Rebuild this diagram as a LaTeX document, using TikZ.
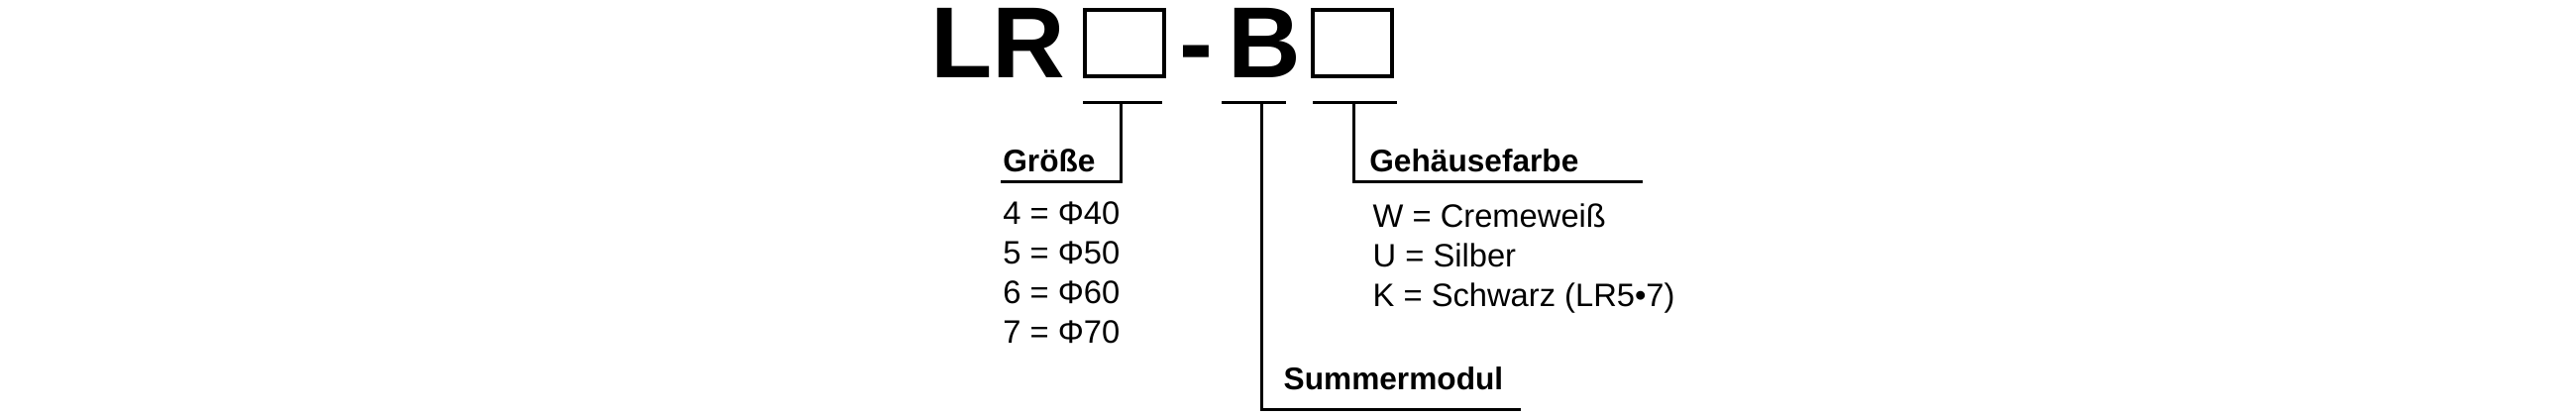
\documentclass[tikz,border=0pt]{standalone}
\usepackage{fontspec}
\setmainfont{Liberation Sans}
\begin{document}
\begin{tikzpicture}[x=0.016667cm,y=-0.016667cm,
  lab/.style={anchor=base west,inner sep=0pt,font=\fontsize{9}{11}\selectfont\bfseries},
  item/.style={anchor=base west,inner sep=0pt,font=\fontsize{9.3}{11}\selectfont},
  big/.style={anchor=base west,inner sep=0pt,font=\fontsize{29}{30}\selectfont\bfseries},
  ln/.style={line width=0.8pt}]
\useasboundingbox (0,0) rectangle (1560,252);
\node[big] (lr) at (563,47) {LR};
\draw[line width=1.1pt] (657,6) rectangle (705,46);
\node[big] (dash) at (714,47) {-};
\node[big] (b) at (743,47) {B};
\draw[line width=1.1pt] (795,6) rectangle (843,46);
\coordinate (u1) at (679,62); \coordinate (u2) at (764,62); \coordinate (u3) at (820,62);
\draw[ln] (656,62) -- (704,62);
\draw[ln] (740,62) -- (779,62);
\draw[ln] (795,62) -- (846,62);
\coordinate (g) at (606,110);
\draw[ln] (u1) -- (679,110) -- (g);
\coordinate (s) at (921,248);
\draw[ln] (u2) -- (764,248) -- (s);
\coordinate (h) at (995,110);
\draw[ln] (u3) -- (820,110) -- (h);
\node[lab] (gr) at (607,104) {Größe};
\node[item] (g4) at (607,136) {4 = Φ40};
\node[item] (g5) at (607,160) {5 = Φ50};
\node[item] (g6) at (607,184) {6 = Φ60};
\node[item] (g7) at (607,208) {7 = Φ70};
\node[lab] (ge) at (829,104) {Gehäusefarbe};
\node[item] (w) at (831,138) {W = Cremeweiß};
\node[item] (u) at (831,162) {U = Silber};
\node[item] (k) at (831,186) {K = Schwarz (LR5•7)};
\node[lab] (sm) at (777,236) {Summermodul};
\end{tikzpicture}
\end{document}
